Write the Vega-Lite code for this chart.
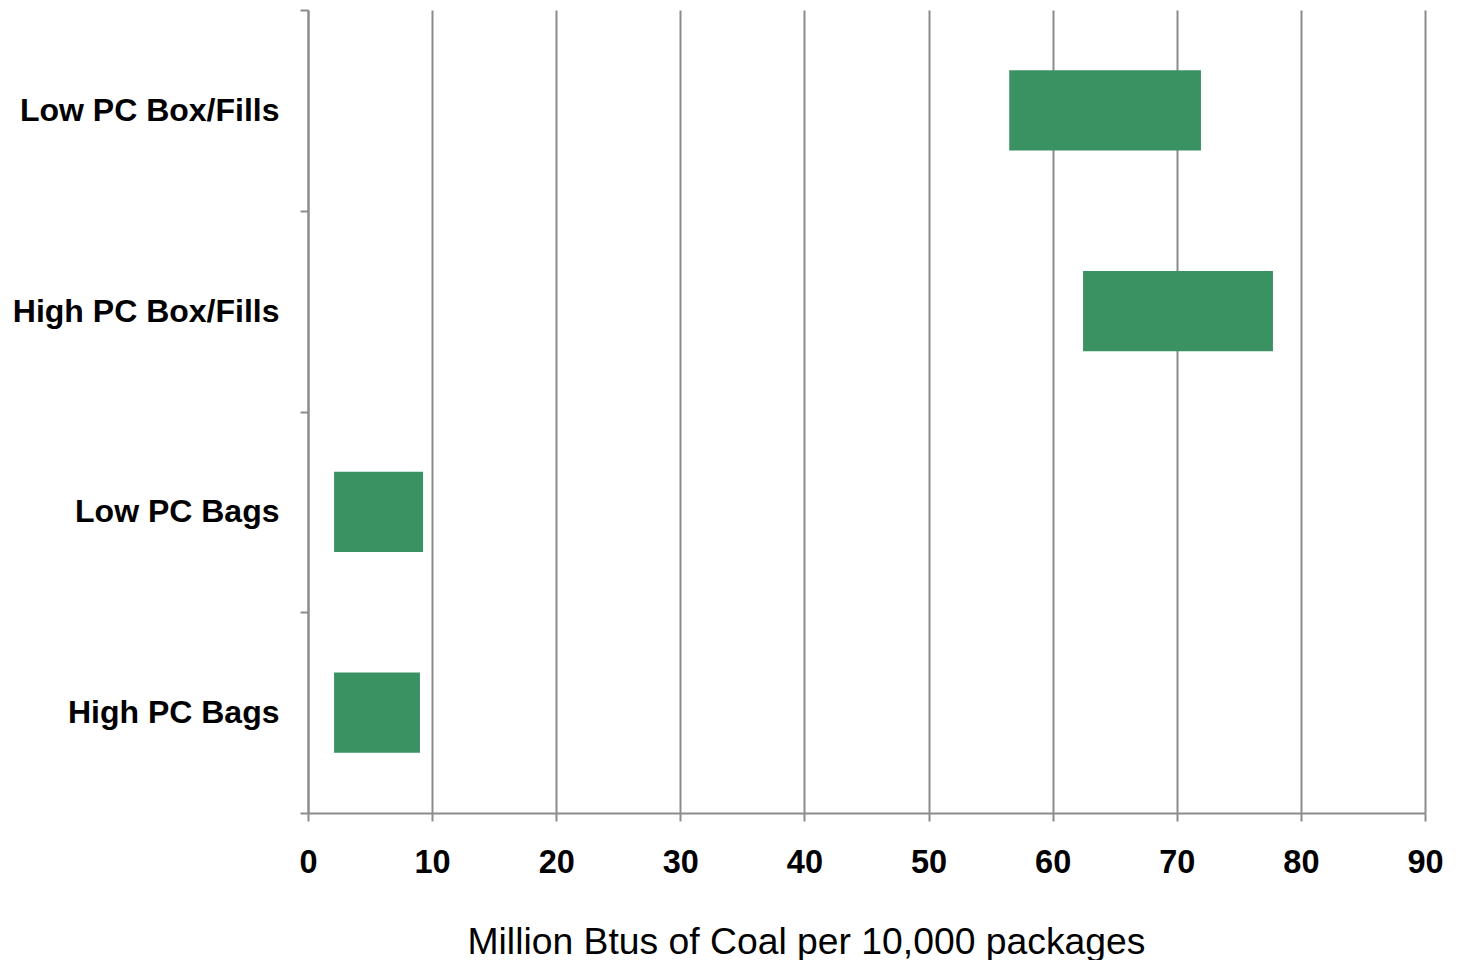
{
  "$schema": "https://vega.github.io/schema/vega-lite/v6.json",
  "width": 1117,
  "height": 803,
  "autosize": {"type": "none"},
  "padding": {"left": 308, "top": 10, "right": 36, "bottom": 147},
  "background": "white",
  "config": {
    "view": {"stroke": null},
    "font": "Liberation Sans"
  },
  "data": {
    "values": [
      {"category": "Low PC Box/Fills", "low": 56.5, "high": 71.95},
      {"category": "High PC Box/Fills", "low": 62.45, "high": 77.75},
      {"category": "Low PC Bags", "low": 2.1, "high": 9.27},
      {"category": "High PC Bags", "low": 2.1, "high": 9.02}
    ]
  },
  "mark": {"type": "bar", "color": "#3a9263", "height": {"band": 0.4}},
  "encoding": {
    "y": {
      "field": "category",
      "type": "nominal",
      "sort": null,
      "scale": {"paddingInner": 0, "paddingOuter": 0},
      "axis": {
        "title": null,
        "tickBand": "extent",
        "grid": false,
        "domainColor": "#8c8c8c",
        "domainWidth": 2,
        "tickColor": "#8c8c8c",
        "tickWidth": 2,
        "tickSize": 8,
        "labelPadding": 21,
        "labelFont": "Liberation Sans",
        "labelFontSize": 32,
        "labelFontWeight": "bold",
        "labelColor": "black",
        "labelLimit": 400
      }
    },
    "x": {
      "field": "low",
      "type": "quantitative",
      "scale": {"domain": [0, 90], "nice": false},
      "axis": {
        "values": [0, 10, 20, 30, 40, 50, 60, 70, 80, 90],
        "title": "Million Btus of Coal per 10,000 packages",
        "titleFont": "Liberation Sans",
        "titleFontSize": 37.3,
        "titleFontWeight": "normal",
        "titleColor": "black",
        "titleX": 498,
        "titleY": 140,
        "titleAlign": "center",
        "titleBaseline": "alphabetic",
        "grid": true,
        "gridColor": "#8c8c8c",
        "gridWidth": 2,
        "domainColor": "#8c8c8c",
        "domainWidth": 2,
        "tickColor": "#8c8c8c",
        "tickWidth": 2,
        "tickSize": 8,
        "labelPadding": 25,
        "labelFont": "Liberation Sans",
        "labelFontSize": 32.5,
        "labelFontWeight": "bold",
        "labelColor": "black",
        "labelFlush": false
      }
    },
    "x2": {"field": "high"}
  }
}
